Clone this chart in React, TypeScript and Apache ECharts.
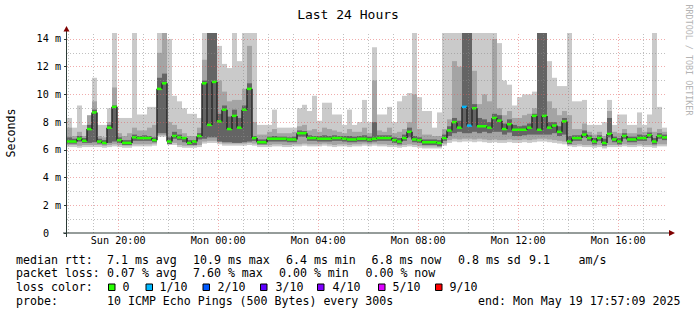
import React, { useEffect, useRef } from 'react';
import * as echarts from 'echarts';

// ---- time base: window starts Sun 17:57:09 (hours since Sun 00:00), 12-minute bins ----
const START_HOUR = 17 + 57 / 60 + 9 / 3600;
const STEP_HOURS = 0.2;
const Y_MAX = 14.43;

// median rtt (ms) per bin
const MED = [
  6.6, 6.6, 6.8, 6.65, 7.5, 8.7, 6.6, 6.5, 7.6, 9.1,
  6.7, 6.5, 6.5, 6.9, 6.85, 6.85, 6.85, 6.7, 10.4, 10.8,
  6.6, 7.0, 6.9, 6.85, 6.5, 6.6, 7.0, 10.8, 7.8, 10.9,
  8.05, 8.9, 7.5, 8.45, 7.6, 8.9, 10.4, 6.85, 6.55, 6.55,
  6.8, 6.8, 6.8, 6.8, 6.75, 6.75, 7.2, 7.2, 6.85, 6.85,
  6.8, 6.8, 6.8, 6.85, 6.85, 6.8, 6.75, 6.75, 6.8, 6.8,
  6.75, 6.8, 6.85, 6.85, 6.85, 6.7, 6.6, 6.85, 7.3, 6.75,
  6.7, 6.55, 6.55, 6.55, 6.5, 6.85, 7.4, 8.0, 7.6, 9.1,
  7.75, 9.0, 7.7, 7.7, 7.6, 8.3, 8.1, 7.5, 7.85, 7.45,
  7.45, 7.45, 7.6, 8.45, 7.45, 8.45, 7.6, 7.75, 7.3, 8.05,
  6.6, 6.85, 6.85, 7.1, 6.85, 6.6, 6.85, 6.5, 7.15, 6.75,
  6.6, 7.0, 6.75, 6.75, 6.85, 6.85, 7.05, 6.6, 7.0, 6.9,
];

// lost pings (of 10) per bin
const LOSS = [
  0, 0, 0, 0, 0, 0, 0, 0, 0, 0,
  0, 0, 0, 0, 0, 0, 0, 0, 0, 0,
  0, 0, 0, 0, 0, 0, 0, 0, 0, 0,
  0, 0, 0, 0, 0, 0, 0, 0, 0, 0,
  0, 0, 0, 0, 0, 0, 0, 0, 0, 0,
  0, 0, 0, 0, 0, 0, 0, 0, 0, 0,
  0, 0, 0, 0, 0, 0, 0, 0, 0, 0,
  0, 0, 0, 0, 0, 0, 0, 0, 0, 1,
  1, 0, 0, 0, 0, 0, 0, 0, 0, 0,
  0, 0, 0, 0, 0, 0, 0, 0, 0, 0,
  0, 0, 0, 0, 0, 0, 0, 0, 0, 0,
  0, 0, 0, 0, 0, 0, 0, 0, 0, 0,
];

// smoke: min / max ping (light band)
const LO = [
  6.2, 6.2, 6.15, 6.2, 6.2, 6.2, 6.2, 6.15, 6.2, 6.25,
  6.2, 6.15, 6.15, 6.25, 6.25, 6.25, 6.25, 6.3, 6.95, 6.95,
  6.4, 6.35, 6.2, 6.15, 6.15, 6.15, 6.2, 6.45, 6.5, 6.5,
  6.4, 6.3, 6.3, 6.3, 6.3, 6.3, 6.35, 6.3, 6.2, 6.2,
  6.2, 6.25, 6.25, 6.2, 6.2, 6.25, 6.25, 6.3, 6.25, 6.25,
  6.25, 6.3, 6.25, 6.2, 6.25, 6.25, 6.2, 6.25, 6.25, 6.3,
  6.25, 6.3, 6.25, 6.25, 6.2, 6.2, 6.15, 6.2, 6.25, 6.2,
  6.15, 6.1, 6.1, 6.1, 6.1, 6.3, 6.5, 6.6, 6.55, 6.6,
  6.6, 6.55, 6.6, 6.55, 6.5, 6.55, 6.5, 6.5, 6.55, 6.5,
  6.5, 6.55, 6.5, 6.55, 6.6, 6.6, 6.55, 6.5, 6.45, 6.4,
  6.25, 6.2, 6.25, 6.2, 6.2, 6.15, 6.2, 6.1, 6.2, 6.2,
  6.2, 6.25, 6.2, 6.2, 6.25, 6.2, 6.2, 6.15, 6.25, 6.25,
];
const HI = [
  8.3, 7.6, 9.2, 7.8, 7.8, 11.2, 7.8, 7.8, 9.0, 15,
  8.3, 8.3, 8.3, 15, 8.55, 8.55, 9.1, 9.1, 15, 15,
  14.0, 9.9, 9.5, 9.0, 8.6, 8.6, 8.3, 15, 11.7, 15,
  13.5, 12.2, 11.9, 15, 12.4, 15, 15, 15, 7.8, 7.8,
  7.8, 8.9, 7.6, 7.6, 7.6, 7.6, 9.0, 9.25, 8.8, 9.9,
  8.1, 9.4, 9.4, 8.55, 8.55, 7.8, 8.9, 7.8, 8.0, 9.6,
  8.0, 13.4, 8.55, 8.55, 9.1, 8.0, 9.5, 9.9, 10.1, 15,
  9.8, 8.8, 8.8, 7.6, 8.7, 15, 15, 15, 15, 15,
  15, 15, 15, 15, 15, 15, 13.7, 11.0, 10.7, 9.2,
  9.8, 10.0, 10.0, 10.2, 15, 15, 12.4, 11.2, 10.6, 10.6,
  15, 9.5, 9.5, 9.6, 7.8, 7.8, 7.8, 8.0, 9.6, 7.8,
  8.55, 8.55, 7.8, 7.8, 8.7, 7.8, 8.55, 15, 9.1, 7.6,
];
// smoke: inner (medium grey) band
const LO2 = [
  6.35, 6.35, 6.3, 6.35, 6.35, 6.35, 6.35, 6.3, 6.35, 6.4,
  6.35, 6.3, 6.3, 6.4, 6.4, 6.4, 6.4, 6.45, 7.05, 7.05,
  6.5, 6.5, 6.35, 6.3, 6.3, 6.3, 6.35, 6.6, 6.65, 6.65,
  6.55, 6.45, 6.45, 6.45, 6.45, 6.45, 6.5, 6.45, 6.35, 6.35,
  6.35, 6.4, 6.4, 6.35, 6.35, 6.4, 6.4, 6.45, 6.4, 6.4,
  6.4, 6.45, 6.4, 6.35, 6.4, 6.4, 6.35, 6.4, 6.4, 6.45,
  6.4, 6.45, 6.4, 6.4, 6.35, 6.35, 6.3, 6.35, 6.4, 6.35,
  6.3, 6.25, 6.25, 6.25, 6.25, 6.45, 6.7, 6.8, 6.75, 6.8,
  6.8, 6.75, 6.8, 6.75, 6.7, 6.75, 6.7, 6.7, 6.75, 6.7,
  6.7, 6.75, 6.7, 6.75, 6.8, 6.8, 6.75, 6.7, 6.65, 6.6,
  6.4, 6.35, 6.4, 6.35, 6.35, 6.3, 6.35, 6.25, 6.35, 6.35,
  6.35, 6.4, 6.35, 6.35, 6.4, 6.35, 6.35, 6.3, 6.4, 6.4,
];
const MID = [
  7.6, 7.0, 7.3, 7.0, 8.5, 9.5, 7.0, 6.9, 8.0, 10.5,
  7.2, 7.0, 7.2, 7.6, 7.4, 7.4, 7.6, 7.8, 13.0, 15,
  8.0, 7.8, 7.5, 7.2, 7.0, 7.0, 7.6, 12.5, 15, 15,
  11.0, 10.2, 9.5, 9.6, 9.6, 10.4, 13.5, 8.0, 7.1, 7.1,
  7.3, 7.5, 7.2, 7.2, 7.2, 7.3, 7.7, 7.8, 7.4, 7.5,
  7.3, 7.6, 7.5, 7.4, 7.3, 7.2, 7.5, 7.3, 7.3, 7.6,
  7.2, 11.0, 7.4, 7.3, 7.6, 7.2, 7.3, 7.5, 8.0, 10.0,
  7.5, 7.1, 7.1, 7.0, 7.0, 7.5, 8.2, 12.4, 12.0, 15,
  15, 11.7, 9.3, 10.0, 9.5, 14.0, 9.0, 8.5, 8.8, 8.3,
  8.3, 8.5, 8.6, 9.0, 11.5, 12.0, 9.5, 9.0, 8.5, 8.8,
  8.5, 7.5, 7.5, 7.9, 7.3, 7.1, 7.3, 7.0, 8.8, 7.3,
  7.2, 7.5, 7.2, 7.2, 7.6, 7.3, 7.6, 7.3, 7.5, 7.3,
];
// smoke: core (dark grey) band
const DLO = [
  6.45, 6.45, 6.6, 6.5, 6.5, 6.55, 6.45, 6.4, 6.5, 6.6,
  6.5, 6.35, 6.35, 6.65, 6.65, 6.65, 6.65, 6.55, 7.2, 7.2,
  6.4, 6.8, 6.7, 6.55, 6.35, 6.35, 6.75, 6.8, 6.9, 6.9,
  6.6, 6.55, 6.55, 6.5, 6.5, 6.55, 6.6, 6.65, 6.4, 6.4,
  6.6, 6.6, 6.6, 6.6, 6.55, 6.55, 6.95, 6.95, 6.65, 6.65,
  6.6, 6.6, 6.6, 6.65, 6.65, 6.6, 6.55, 6.55, 6.6, 6.6,
  6.55, 6.6, 6.65, 6.65, 6.65, 6.5, 6.4, 6.65, 6.9, 6.55,
  6.5, 6.35, 6.35, 6.35, 6.25, 6.65, 7.0, 7.2, 7.3, 7.2,
  7.2, 7.3, 7.2, 7.3, 7.2, 7.3, 7.3, 7.1, 7.25, 7.0,
  7.0, 7.05, 7.1, 7.1, 7.1, 7.1, 7.1, 7.2, 7.0, 7.1,
  6.4, 6.65, 6.65, 6.9, 6.65, 6.4, 6.65, 6.3, 6.9, 6.55,
  6.4, 6.8, 6.55, 6.55, 6.65, 6.65, 6.85, 6.4, 6.8, 6.7,
];
const DARK = [
  6.9, 6.8, 7.0, 6.85, 7.8, 8.9, 6.8, 6.7, 7.8, 9.2,
  6.9, 6.7, 6.7, 7.1, 7.0, 7.05, 7.0, 6.9, 11.2, 11.5,
  6.9, 7.3, 7.1, 6.9, 6.7, 6.7, 7.2, 11.0, 15, 15,
  8.6, 9.2, 8.4, 8.9, 8.3, 9.2, 10.8, 7.0, 6.75, 6.75,
  6.95, 7.0, 6.95, 6.95, 6.9, 6.95, 7.4, 7.35, 7.05, 7.0,
  7.0, 7.05, 7.0, 7.05, 7.0, 7.0, 7.0, 6.95, 7.0, 7.05,
  6.95, 8.0, 7.05, 7.05, 7.05, 6.9, 6.85, 7.1, 7.6, 7.0,
  6.9, 6.75, 6.75, 6.75, 6.7, 7.1, 7.7, 8.3, 8.1, 15,
  15, 9.3, 8.3, 8.2, 8.0, 8.6, 8.5, 7.9, 8.2, 7.8,
  7.7, 7.75, 7.9, 8.6, 15, 15, 8.0, 8.0, 7.7, 8.3,
  7.0, 7.05, 7.05, 7.4, 7.05, 6.85, 7.05, 6.8, 8.3, 6.95,
  6.85, 7.2, 6.95, 6.95, 7.1, 7.05, 7.25, 6.85, 7.2, 7.1,
];

// axis / grid values
const X_LABEL_HOURS = [20, 24, 28, 32, 36, 40];
const GRID_HOURS = [18, 19, 20, 21, 22, 23, 24, 25, 26, 27, 28, 29, 30, 31, 32, 33, 34, 35, 36, 37, 38, 39, 40, 41];
const Y_LABELS = [0, 2, 4, 6, 8, 10, 12, 14];
const GRID_MS = [1, 2, 3, 4, 5, 6, 7, 8, 9, 10, 11, 12, 13, 14];

// legend texts
const TITLE = 'Last 24 Hours';
const LEGEND_LINE1: [string, number][] = [
  ['median rtt:', 16], ['7.1 ms avg', 107], ['10.9 ms max', 193], ['6.4 ms min', 286],
  ['6.8 ms now', 371.5], ['0.8 ms sd', 458], ['9.1', 529], ['am/s', 578.5],
];
const LEGEND_LINE2: [string, number][] = [
  ['packet loss:', 16], ['0.07 % avg', 107], ['7.60 % max', 193], ['0.00 % min', 279], ['0.00 % now', 365.5],
];
const LOSS_KEYS = [0, 1, 2, 3, 4, 5, 9];
const LOSS_LABELS = ['0', '1/10', '2/10', '3/10', '4/10', '5/10', '9/10'];
const LOSS_COLORS: Record<number, string> = {
  0: '#26ff00', 1: '#00b8ff', 2: '#0059ff', 3: '#5e00ff', 4: '#7e00ff', 5: '#dd00ff', 9: '#ff0000',
};
const LOSS_BOX_X = [108, 145.5, 202.5, 260, 317, 378, 435];
const LOSS_TEXT_X = [122.5, 159.5, 217.5, 275.5, 332.5, 392.5, 449.5];
const LEGEND_LINE4: [string, number][] = [
  ['probe:', 16], ['10 ICMP Echo Pings (500 Bytes) every 300s', 107], ['end: Mon May 19 17:57:09 2025', 478],
];

const MONO = 'DejaVu Sans Mono, monospace';

export default function App() {
  const ref = useRef<HTMLDivElement>(null);
  useEffect(() => {
    if (!ref.current) return;
    const chart = echarts.init(ref.current, null, { renderer: 'svg' });

    const smokeData = MED.map((_, i) => [START_HOUR + i * STEP_HOURS, LO[i], HI[i], LO2[i], MID[i], DLO[i], DARK[i]]);
    const medData = MED.map((m, i) => [START_HOUR + i * STEP_HOURS, m, LOSS[i], i > 0 ? MED[i - 1] : m]);

    const text = (t: string, x: number, y: number, size: number, extra: any = {}) => ({
      type: 'text', x, y, silent: true, ...extra,
      style: { text: t, fontFamily: MONO, fontSize: size, fill: '#000', align: 'left', verticalAlign: 'middle', ...(extra.style || {}) },
    });

    const graphics: any[] = [];
    graphics.push(text(TITLE, 348, 14, 13, { style: { align: 'center' } }));
    graphics.push(text('Seconds', 11, 133, 11.6, { rotation: Math.PI / 2, style: { align: 'center' } }));
    graphics.push(text('RRDTOOL / TOBI OETIKER', 689, 60, 8.4, { rotation: -Math.PI / 2, style: { align: 'center', fill: '#b4b4b4' } }));
    // axes lines + arrows
    graphics.push({ type: 'line', silent: true, z: 50, shape: { x1: 66.5, y1: 237, x2: 66.5, y2: 31 }, style: { stroke: '#2c3b36', lineWidth: 1 } });
    graphics.push({ type: 'line', silent: true, z: 50, shape: { x1: 63, y1: 233, x2: 670, y2: 233 }, style: { stroke: '#2c3b36', lineWidth: 1 } });
    graphics.push({ type: 'polygon', silent: true, z: 51, shape: { points: [[63.5, 31.5], [69.5, 31.5], [66.5, 26]] }, style: { fill: '#7f0000' } });
    graphics.push({ type: 'polygon', silent: true, z: 51, shape: { points: [[669, 230], [669, 236], [675, 233]] }, style: { fill: '#7f0000' } });

    LEGEND_LINE1.forEach(([t, x]) => graphics.push(text(t, x, 259.5, 11.6)));
    LEGEND_LINE2.forEach(([t, x]) => graphics.push(text(t, x, 273, 11.6)));
    graphics.push(text('loss color:', 16, 287, 11.6));
    LOSS_KEYS.forEach((k, j) => {
      graphics.push({ type: 'rect', silent: true, shape: { x: LOSS_BOX_X[j] + 0.5, y: 284, width: 6.5, height: 6.5 }, style: { fill: LOSS_COLORS[k], stroke: '#000', lineWidth: 1 } });
      graphics.push(text(LOSS_LABELS[j], LOSS_TEXT_X[j], 287, 11.6));
    });
    LEGEND_LINE4.forEach(([t, x]) => graphics.push(text(t, x, 301, 11.6)));

    const minorStyle = { type: [1, 2], color: 'rgba(140,140,140,0.55)', width: 1 };
    const majorStyle = { type: [1, 2], color: 'rgba(225,90,90,0.5)', width: 1 };

    chart.setOption({
      animation: false,
      backgroundColor: '#ffffff',
      grid: { left: 67, top: 33, width: 600, height: 200, containLabel: false },
      xAxis: {
        type: 'value',
        min: START_HOUR,
        max: START_HOUR + 24,
        axisLine: { show: false },
        axisTick: { show: false },
        splitLine: { show: false },
        axisLabel: {
          customValues: X_LABEL_HOURS,
          margin: 2,
          fontFamily: MONO,
          fontSize: 10.15,
          color: '#000',
          formatter: (v: number) => `${v < 24 ? 'Sun' : 'Mon'} ${String(v % 24).padStart(2, '0')}:00`,
        },
      },
      yAxis: {
        type: 'value',
        min: 0,
        max: Y_MAX,
        axisLine: { show: false },
        splitLine: { show: false },
        axisTick: { show: true, customValues: Y_LABELS, length: 3, lineStyle: { color: '#2c3b36' } },
        axisLabel: {
          customValues: Y_LABELS,
          margin: 6,
          fontFamily: MONO,
          fontSize: 10.15,
          color: '#000',
          formatter: (v: number) => (v === 0 ? '{z|0}' : `${v} m`),
          rich: { z: { fontFamily: MONO, fontSize: 10.15, color: '#000', padding: [0, 12, 0, 0] } },
        },
      },
      series: [
        {
          type: 'custom',
          name: 'smoke',
          z: 1,
          clip: true,
          silent: true,
          data: smokeData,
          encode: { x: 0, y: [1, 2] },
          renderItem: (_p: any, api: any) => {
            const t = api.value(0);
            const xa = api.coord([t, 0])[0];
            const xb = api.coord([t + STEP_HOURS, 0])[0];
            const band = (lo: number, hi: number, fill: string) => {
              const y1 = api.coord([t, hi])[1];
              const y0 = api.coord([t, lo])[1];
              return { type: 'rect', shape: { x: xa, y: y1, width: xb - xa, height: y0 - y1 }, style: { fill } };
            };
            return {
              type: 'group',
              children: [
                band(api.value(1), api.value(2), '#cacaca'),
                band(api.value(3), api.value(4), '#a4a4a4'),
                band(api.value(5), api.value(6), '#646464'),
              ],
            };
          },
        },
        {
          type: 'line',
          name: 'grid',
          z: 2,
          data: [],
          silent: true,
          markLine: {
            silent: true,
            symbol: ['none', 'none'],
            label: { show: false },
            data: [
              ...GRID_HOURS.map((h) => ({ xAxis: h, lineStyle: h % 4 === 0 ? majorStyle : minorStyle })),
              ...GRID_MS.map((v) => ({ yAxis: v, lineStyle: v % 2 === 0 ? majorStyle : minorStyle })),
            ],
          },
        },
        {
          type: 'custom',
          name: 'median',
          z: 3,
          clip: true,
          silent: true,
          data: medData,
          encode: { x: 0, y: 1 },
          renderItem: (_p: any, api: any) => {
            const t = api.value(0);
            const m = api.value(1);
            const loss = api.value(2);
            const prev = api.value(3);
            const xa = api.coord([t, m])[0];
            const xb = api.coord([t + STEP_HOURS, m])[0];
            const ym = api.coord([t, m])[1];
            const yp = api.coord([t, prev])[1];
            return {
              type: 'group',
              children: [
                { type: 'line', shape: { x1: xa, y1: yp, x2: xa, y2: ym }, style: { stroke: '#2a2a2a', lineWidth: 1.5 } },
                { type: 'rect', shape: { x: xa, y: ym - 1.25, width: xb - xa, height: 2.5 }, style: { fill: LOSS_COLORS[loss] || '#26ff00' } },
              ],
            };
          },
        },
      ],
      graphic: { elements: graphics },
    });

    return () => chart.dispose();
  }, []);

  return <div ref={ref} style={{ position: 'absolute', left: 0, top: 0, width: 697, height: 315 }} />;
}
